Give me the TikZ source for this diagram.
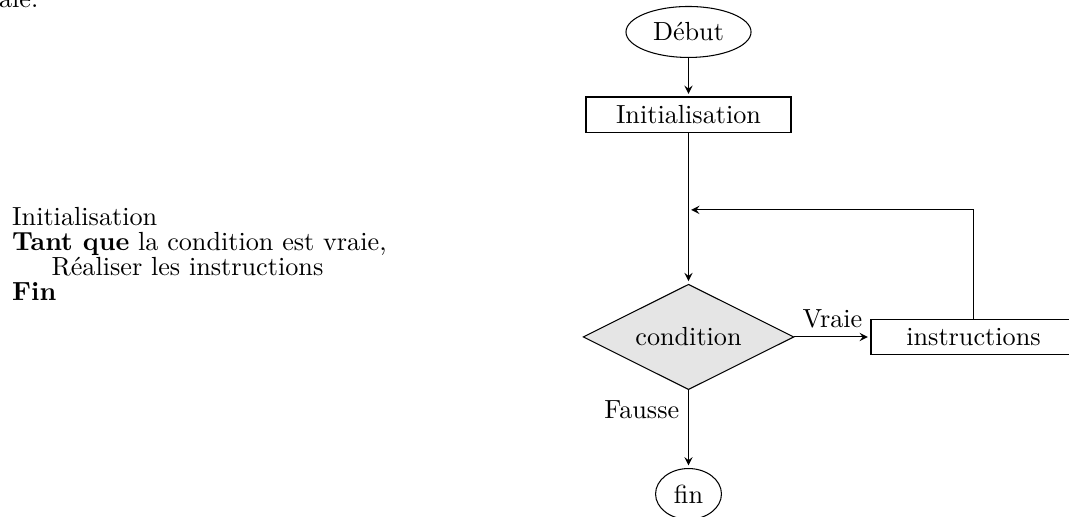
\documentclass[tikz,border=0pt]{standalone}
\usepackage{fontspec}
\usetikzlibrary{positioning, arrows, shapes.geometric}
\tikzset{
    >=stealth, % pointes de fleches
    debutfin/.style={ellipse, draw}, % debut et fin
    boite/.style={rectangle, draw, minimum width=2.75cm}, % instructions
    test/.style={diamond, draw, fill=gray!20, aspect=2, inner sep=4.3pt}, % condition
}

\begin{document}
\begin{tikzpicture}[shorten >=1pt, on grid]
    \useasboundingbox (0,0) rectangle (14.34,-6.935);

    % Texte
    \node[anchor=north west, inner sep=0] (entete) at (-0.02,0.15) {ale:};
    \node[anchor=north west, inner sep=0, align=left,
          font=\setlength{\baselineskip}{9.6pt}] (algo) at (0.157,-2.774)
          {Initialisation\\
           \textbf{Tant que} la condition est vraie,\\
           \hspace*{1.5em}Réaliser les instructions\\
           \textbf{Fin}};

    % Organigramme
    \node[debutfin] (debut) at (9.236,-0.429) {Début};
    \node[boite] (init) [below=1.113cm of debut] {Initialisation};
    \node[test] (cond) [below=2.978cm of init] {condition};
    \node[boite] (instr) [right=3.823cm of cond] {instructions};
    \node[debutfin] (fin) [below=2.106cm of cond] {fin};
    \coordinate[below=1.274cm of init] (retour);

    % Fleches
    \path[->]
        (debut) edge (init)
        (init) edge (cond)
        (cond) edge node[above] {Vraie} (instr)
               edge node[left, near start] {Fausse} (fin);
    \draw[->] (instr) |- (retour);

\end{tikzpicture}
\end{document}
